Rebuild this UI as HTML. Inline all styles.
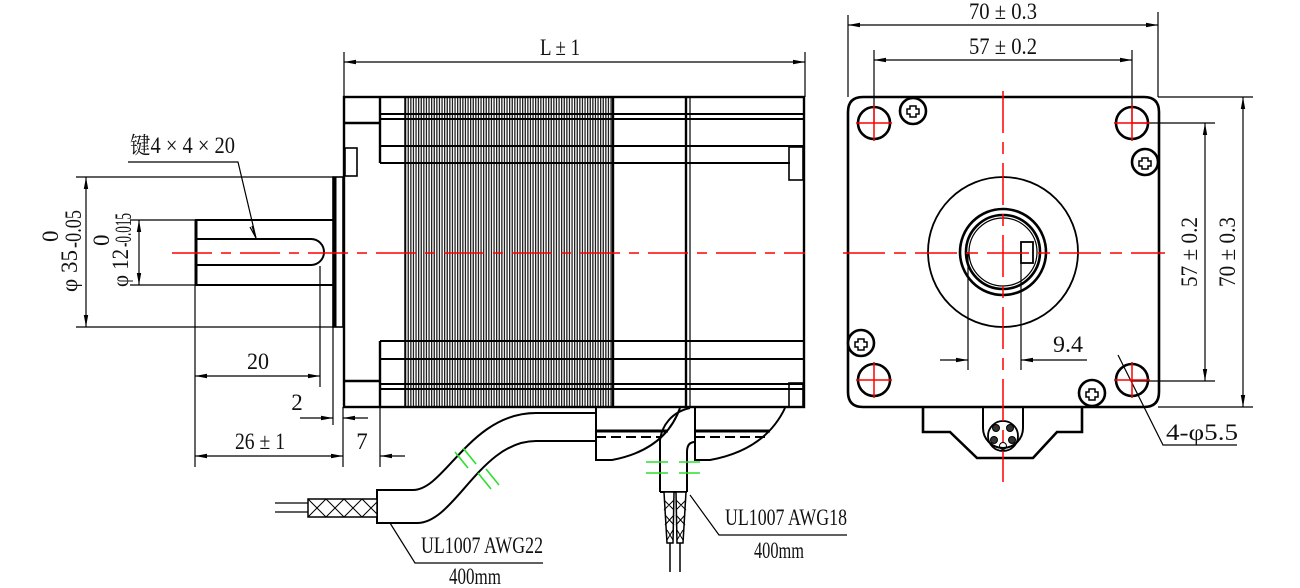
<!DOCTYPE html>
<html><head><meta charset="utf-8"><style>
html,body{margin:0;padding:0;background:#fff;width:1300px;height:588px;overflow:hidden}
svg{display:block}
text{font-family:"Liberation Serif","Noto Serif CJK SC",serif;font-size:23px;fill:#111}
</style></head><body>
<svg width="1300" height="588" viewBox="0 0 1300 588" xmlns="http://www.w3.org/2000/svg">
<defs>
<pattern id="lam" x="405" y="0" width="2.6" height="10" patternUnits="userSpaceOnUse">
<rect width="2.6" height="10" fill="#fff"/><rect width="1.3" height="10" fill="#222"/>
</pattern>
<marker id="ar" viewBox="0 0 12 6" refX="12" refY="3" markerWidth="12" markerHeight="6" orient="auto-start-reverse" markerUnits="userSpaceOnUse"><path d="M0,0.8 L12,3 L0,5.2 z" fill="#000"/></marker>
</defs>
<g fill="none" stroke="#000" stroke-width="1.2">
<rect x="405" y="97" width="208" height="310" fill="url(#lam)" stroke="none"/>
<g stroke-width="2.4">
<rect x="344" y="97" width="460" height="310"/>
<line x1="380" y1="97" x2="380" y2="163"/><line x1="380" y1="341" x2="380" y2="407"/>
<line x1="344" y1="123" x2="380" y2="123"/><line x1="344" y1="381" x2="380" y2="381"/>
<line x1="405" y1="97" x2="405" y2="407" stroke-width="1.5"/>
<line x1="613" y1="97" x2="613" y2="407"/>
<line x1="686" y1="97" x2="686" y2="407"/><line x1="690" y1="97" x2="690" y2="407" stroke-width="1.2"/>
</g>
<g stroke-width="2">
<line x1="380" y1="114" x2="804" y2="114"/><line x1="380" y1="119" x2="804" y2="119"/>
<line x1="380" y1="146" x2="804" y2="146"/><line x1="380" y1="163" x2="790" y2="163"/>
<line x1="380" y1="341" x2="804" y2="341"/><line x1="380" y1="359" x2="804" y2="359"/>
<line x1="380" y1="384" x2="804" y2="384"/><line x1="380" y1="389" x2="804" y2="389"/>
</g>
<rect x="345" y="148" width="12" height="28" stroke-width="1.6"/>
<rect x="789" y="147" width="14" height="33" stroke-width="1.6"/>
<rect x="789" y="383" width="14" height="24" stroke-width="1.6"/>
<rect x="333" y="177" width="10" height="150" stroke-width="1.6"/>
<line x1="335" y1="177" x2="335" y2="327" stroke-width="3"/>
<g stroke-width="2">
<line x1="195" y1="220" x2="333" y2="220"/><line x1="195" y1="285" x2="333" y2="285"/>
<line x1="196" y1="220" x2="196" y2="285" stroke-width="3"/>
<path d="M196,239 H311 A13,13 0 0 1 311,265 H196"/>
</g>
<line x1="76" y1="177" x2="333" y2="177"/><line x1="76" y1="327" x2="333" y2="327"/>
<line x1="86" y1="177" x2="86" y2="327" marker-start="url(#ar)" marker-end="url(#ar)"/>
<line x1="130" y1="220" x2="195" y2="220"/><line x1="130" y1="285" x2="195" y2="285"/>
<line x1="139" y1="220" x2="139" y2="285" marker-start="url(#ar)" marker-end="url(#ar)"/>
<polyline points="128,162 238,162 256,238"/>
<path d="M252,226 L256,238 L250,227" />
<line x1="195" y1="285" x2="195" y2="467"/>
<line x1="320" y1="266" x2="320" y2="387"/>
<line x1="195" y1="376" x2="320" y2="376" marker-start="url(#ar)" marker-end="url(#ar)"/>
<line x1="333" y1="327" x2="333" y2="425"/>
<line x1="343" y1="407" x2="343" y2="467"/>
<line x1="380" y1="407" x2="380" y2="467"/>
<line x1="300" y1="418" x2="333" y2="418" marker-end="url(#ar)"/>
<line x1="368" y1="418" x2="343" y2="418" marker-end="url(#ar)"/>
<line x1="195" y1="456" x2="343" y2="456" marker-start="url(#ar)" marker-end="url(#ar)"/>
<line x1="405" y1="456" x2="380" y2="456" marker-end="url(#ar)"/>
<line x1="344" y1="52" x2="344" y2="97"/><line x1="805" y1="52" x2="805" y2="97"/>
<line x1="344" y1="62" x2="805" y2="62" marker-start="url(#ar)" marker-end="url(#ar)"/>
<g stroke-width="2">
<path d="M596,408 V460 H612 Q665,450 680,408"/>
<path d="M596,431 H668" stroke-width="3"/>
<path d="M596,437 H662" stroke-dasharray="10 5"/>
<path d="M695,408 V460 H710 Q765,450 785,408"/>
<path d="M695,431 H770" stroke-width="3"/>
<path d="M695,437 H765" stroke-dasharray="10 5"/>
<path d="M595,413 H536 C470,413 445,490 413,490 H377 V523 H417 C455,523 480,441 536,441 H595"/>
<path d="M660,492 V440 C662,425 672,412 690,408"/>
<path d="M687,492 V452 C687,445 690,442 695,442"/>
<line x1="660" y1="492" x2="687" y2="492"/>
</g>
<rect x="308" y="499" width="69" height="18" fill="#fff" stroke-width="1.5"/>
<path d="M308,499 l9,9 9,-9 9,9 9,-9 9,9 9,-9 9,9 6,-6 M308,517 l9,-9 9,9 9,-9 9,9 9,-9 9,9 9,-9 6,6" stroke-width="1"/>
<line x1="275" y1="503" x2="308" y2="503"/><line x1="275" y1="512" x2="308" y2="512"/>
<path d="M664,492 L674,492 L673,543 L667,543 Z M676,492 L686,492 L683,543 L677,543 Z" fill="#fff" stroke-width="1.5"/>
<path d="M664,500 L674,510 M674,500 L664,510 M665,515 L674,525 M674,515 L665,525 M667,530 L673,540 M673,530 L667,540 M676,500 L686,510 M686,500 L676,510 M676,515 L685,525 M685,515 L676,525 M677,530 L683,540 M683,530 L677,540" stroke-width="1"/>
<line x1="670" y1="543" x2="670" y2="572" stroke-width="1.5"/><line x1="680" y1="543" x2="680" y2="572" stroke-width="1.5"/>
<g stroke="#2de02d" stroke-width="1.6">
<line x1="646" y1="462" x2="668" y2="462"/><line x1="679" y1="462" x2="700" y2="462"/>
<line x1="646" y1="473" x2="668" y2="473"/><line x1="679" y1="473" x2="700" y2="473"/>
<line x1="455" y1="452" x2="468" y2="468"/><line x1="463" y1="448" x2="476" y2="464"/>
<line x1="478" y1="473" x2="491" y2="489"/><line x1="486" y1="469" x2="499" y2="485"/>
</g>
<polyline points="390,523 415,563 543,563"/>
<polyline points="690,495 719,535 847,535"/>
<g stroke-width="2.6">
<path d="M863,97 H1144 Q1159,97 1159,112 V392 Q1159,407 1144,407 H863 Q848,407 848,392 V112 Q848,97 863,97 Z"/>
<path d="M923,407 V432 H950 L977,458 H1033 L1057,432 H1082 V407"/>
<path d="M983,407 V428 A20,20 0 0 0 1023,428 V407" stroke-width="2"/>
</g>
<circle cx="1003" cy="436" r="15" stroke-width="1.8"/>
<g fill="#333" stroke-width="1"><circle cx="996" cy="428" r="3.5"/><circle cx="1010" cy="428" r="3.5"/><circle cx="994" cy="440" r="3.5"/><circle cx="1012" cy="440" r="3.5"/></g><circle cx="1003" cy="446" r="3.5" stroke-width="1"/>
<g stroke-width="2.6">
<circle cx="874" cy="123" r="16"/><circle cx="1132" cy="123" r="16"/>
<circle cx="874" cy="380" r="16"/><circle cx="1132" cy="380" r="16"/>
<circle cx="913" cy="111" r="13" fill="#fff"/><circle cx="1145" cy="162" r="13" fill="#fff"/>
<circle cx="861" cy="343" r="13" fill="#fff"/><circle cx="1092" cy="393" r="13" fill="#fff"/>
</g>
<g stroke-width="1.5">
<path d="M910,107h6v3h3v5h-3v3h-6v-3h-3v-5h3z" transform="translate(0,-1)"/>
<path d="M1142,158h6v3h3v5h-3v3h-6v-3h-3v-5h3z"/>
<path d="M858,339h6v3h3v5h-3v3h-6v-3h-3v-5h3z"/>
<path d="M1089,389h6v3h3v5h-3v3h-6v-3h-3v-5h3z"/>
</g>
<circle cx="1003" cy="252" r="75" stroke-width="1.8"/>
<circle cx="1003" cy="252" r="43" stroke-width="2.6"/>
<circle cx="1003" cy="252" r="37" stroke-width="2.6"/>
<circle cx="1003" cy="252" r="34" stroke-width="1.2"/>
<rect x="1021" y="242" width="12" height="21" fill="#fff" stroke-width="1.8"/>
<line x1="968" y1="252" x2="968" y2="370"/><line x1="1021" y1="263" x2="1021" y2="370"/>
<line x1="940" y1="360" x2="968" y2="360" marker-end="url(#ar)"/>
<line x1="1087" y1="360" x2="1021" y2="360" marker-end="url(#ar)"/>
<line x1="848" y1="15" x2="848" y2="97"/><line x1="1158" y1="12" x2="1158" y2="97"/>
<line x1="848" y1="25" x2="1158" y2="25" marker-start="url(#ar)" marker-end="url(#ar)"/>
<line x1="874" y1="50" x2="874" y2="123"/><line x1="1132" y1="50" x2="1132" y2="123"/>
<line x1="874" y1="60" x2="1132" y2="60" marker-start="url(#ar)" marker-end="url(#ar)"/>
<line x1="1132" y1="123" x2="1215" y2="123"/><line x1="1132" y1="381" x2="1215" y2="381"/>
<line x1="1205" y1="123" x2="1205" y2="381" marker-start="url(#ar)" marker-end="url(#ar)"/>
<line x1="1158" y1="97" x2="1253" y2="97"/><line x1="1158" y1="407" x2="1253" y2="407"/>
<line x1="1243" y1="97" x2="1243" y2="407" marker-start="url(#ar)" marker-end="url(#ar)"/>
<polyline points="1118,355 1163,445 1237,445"/>
</g>
<g stroke="#f00" stroke-width="1.5" fill="none">
<line x1="172" y1="253" x2="805" y2="253" stroke-dasharray="40 9 10 9"/>
<line x1="843" y1="253" x2="1165" y2="253" stroke-dasharray="42 9 12 9"/>
<line x1="1003" y1="91" x2="1003" y2="482" stroke-dasharray="42 9 12 9"/>
<path d="M856,123h36M874,105v36M1114,123h36M1132,105v36M856,380h36M874,362v36M1114,380h36M1132,362v36"/>
</g>
<text x="560" y="55" text-anchor="middle" textLength="40" lengthAdjust="spacingAndGlyphs">L ± 1</text>
<text x="130" y="153" textLength="105" lengthAdjust="spacingAndGlyphs">键4 × 4 × 20</text>
<text x="258" y="369" text-anchor="middle" textLength="22" lengthAdjust="spacingAndGlyphs">20</text>
<text x="297" y="410" text-anchor="middle">2</text>
<text x="260" y="449" text-anchor="middle" textLength="50" lengthAdjust="spacingAndGlyphs">26 ± 1</text>
<text x="362" y="449" text-anchor="middle">7</text>
<g transform="rotate(-90)">
<text x="-292" y="77" textLength="42" lengthAdjust="spacingAndGlyphs">φ 35</text>
<text x="-248" y="81" font-size="15" textLength="38" lengthAdjust="spacingAndGlyphs">-0.05</text>
<text x="-242" y="58" font-size="14">0</text>
<text x="-287" y="128" textLength="38" lengthAdjust="spacingAndGlyphs">φ 12</text>
<text x="-247" y="131" font-size="14" textLength="34" lengthAdjust="spacingAndGlyphs">-0.015</text>
<text x="-246" y="109" font-size="13">0</text>
</g>
<text x="1003" y="19" text-anchor="middle" textLength="68" lengthAdjust="spacingAndGlyphs">70 ± 0.3</text>
<text x="1003" y="54" text-anchor="middle" textLength="68" lengthAdjust="spacingAndGlyphs">57 ± 0.2</text>
<text transform="translate(1197,252) rotate(-90)" text-anchor="middle" textLength="70" lengthAdjust="spacingAndGlyphs">57 ± 0.2</text>
<text transform="translate(1235,252) rotate(-90)" text-anchor="middle" textLength="70" lengthAdjust="spacingAndGlyphs">70 ± 0.3</text>
<text x="1053" y="352" textLength="30" lengthAdjust="spacingAndGlyphs">9.4</text>
<text x="1166" y="440" textLength="72" lengthAdjust="spacingAndGlyphs">4-φ5.5</text>
<text x="421" y="553" textLength="122" lengthAdjust="spacingAndGlyphs">UL1007 AWG22</text>
<text x="475" y="584" text-anchor="middle" textLength="52" lengthAdjust="spacingAndGlyphs">400mm</text>
<text x="725" y="525" textLength="122" lengthAdjust="spacingAndGlyphs">UL1007 AWG18</text>
<text x="779" y="558" text-anchor="middle" textLength="50" lengthAdjust="spacingAndGlyphs">400mm</text>
</svg>
</body></html>
